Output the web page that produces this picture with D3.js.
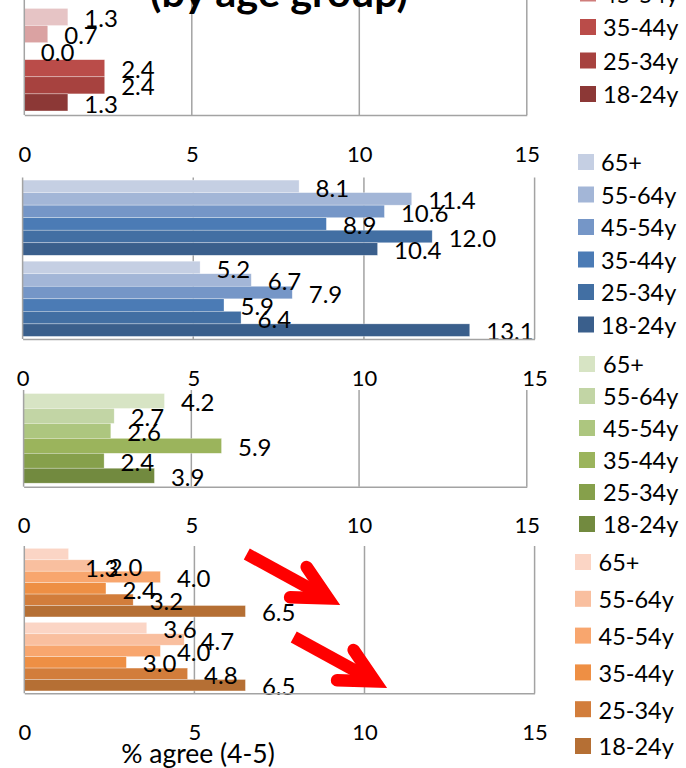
<!DOCTYPE html>
<html>
<head>
<meta charset="utf-8">
<script src="https://cdn.jsdelivr.net/npm/d3@7"></script>
<style>
html,body{margin:0;padding:0;background:#fff;}
svg{display:block;font-family:Lato, "Open Sans", sans-serif;}
</style>
</head>
<body>
<svg id="chart" width="686" height="768"></svg>
<script>
// ---------------- data ----------------
const ageGroups = ["65+", "55-64y", "45-54y", "35-44y", "25-34y", "18-24y"];
const tickValues = [0, 5, 10, 15];
const chartTitle = "(by age group)";
const axisTitle = "% agree (4-5)";

const redGroups = ["Group 1"];
const redValues = [[1.3, 0.7, 0.0, 2.4, 2.4, 1.3]];

const blueGroups = ["Group 1", "Group 2"];
const blueValues = [
  [8.1, 11.4, 10.6, 8.9, 12.0, 10.4],
  [5.2, 6.7, 7.9, 5.9, 6.4, 13.1]
];

const greenGroups = ["Group 1"];
const greenValues = [[4.2, 2.7, 2.6, 5.9, 2.4, 3.9]];

const orangeGroups = ["Group 1", "Group 2"];
const orangeValues = [
  [1.3, 2.0, 4.0, 2.4, 3.2, 6.5],
  [3.6, 4.7, 4.0, 3.0, 4.8, 6.5]
];

// ---------------- styles ----------------
const redColors    = ["#e6c4c5", "#daa2a2", "#cf7d7b", "#ba4c49", "#a7423f", "#8c3836"];
const blueColors   = ["#c5cfe3", "#a3b6d7", "#7596c7", "#4b7bb5", "#426fa3", "#3a5f8c"];
const greenColors  = ["#d7e4c4", "#c2d5a5", "#adc67f", "#9bb45c", "#86a04b", "#728a3f"];
const orangeColors = ["#fbd5c5", "#f9bf9f", "#f8a66e", "#ee8f44", "#d27d3b", "#b56f34"];

const panels = [
  {key:"red", groups:redGroups, values:redValues, colors:redColors,
   top:4.4, bottom:115, gridTop:-4, x0:24.3, x1:526.8,
   legendX:580, legendY0:-73.5, legendStep:33.5, legendTextX:603},
  {key:"blue", groups:blueGroups, values:blueValues, colors:blueColors,
   top:177.5, bottom:339, x0:22.6, x1:534.6,
   legendX:578, legendY0:162, legendStep:32.5, legendTextX:601},
  {key:"green", groups:greenGroups, values:greenValues, colors:greenColors,
   top:390, bottom:486.7, x0:23.6, x1:526.8,
   legendX:579, legendY0:364, legendStep:32, legendTextX:603},
  {key:"orange", groups:orangeGroups, values:orangeValues, colors:orangeColors,
   top:546, bottom:693.3, x0:24.3, x1:534.6,
   legendX:575, legendY0:562, legendStep:36.8, legendTextX:598.5}
];

// manual label nudges (panel|group|index -> dy px)
const labelNudges = {"orange|0|0": 12.5};

const gridColor = "#a3a3a3";
const fmt = d3.format(".1f");
const svg = d3.select("#chart");

panels.forEach(p => {
  const g = svg.append("g").attr("class", "panel-" + p.key);
  const x = d3.scaleLinear().domain([0, 15]).range([p.x0, p.x1]);
  const yOuter = d3.scaleBand().domain(p.groups).range([p.top, p.bottom])
    .paddingInner(0.073).paddingOuter(0.032);
  const yInner = d3.scaleBand().domain(ageGroups).range([0, yOuter.bandwidth()]);
  const gridTop = (p.gridTop !== undefined) ? p.gridTop : p.top;

  // vertical gridlines
  g.append("g").selectAll("line")
    .data(tickValues.filter(t => t > 0))
    .join("line")
    .attr("x1", d => x(d)).attr("x2", d => x(d))
    .attr("y1", gridTop).attr("y2", p.bottom)
    .attr("stroke", gridColor).attr("stroke-width", 1.5);

  // bars + labels
  p.groups.forEach((grp, gi) => {
    const rows = ageGroups.map((a, i) => ({age:a, v:p.values[gi][i], i}));
    const gg = g.append("g").attr("transform", `translate(0,${yOuter(grp)})`);
    gg.selectAll("rect").data(rows).join("rect")
      .attr("x", x(0))
      .attr("y", d => yInner(d.age))
      .attr("width", d => Math.max(0, x(d.v) - x(0)))
      .attr("height", yInner.bandwidth())
      .attr("fill", d => p.colors[d.i])
      .attr("stroke", "#ffffff").attr("stroke-width", 0.6).attr("stroke-opacity", 0.5);
    gg.selectAll("text").data(rows).join("text")
      .attr("x", d => x(d.v) + 16.5)
      .attr("y", d => yInner(d.age) + yInner.bandwidth() / 2 + 1.5 + (labelNudges[`${p.key}|${gi}|${d.i}`] || 0))
      .attr("dy", "0.36em")
      .attr("font-size", 24)
      .attr("fill", "#000")
      .text(d => fmt(d.v));
  });

  // left axis line
  g.append("line")
    .attr("x1", x(0)).attr("x2", x(0))
    .attr("y1", gridTop).attr("y2", p.bottom)
    .attr("stroke", gridColor).attr("stroke-width", 1.5);

  // bottom axis with labels
  const ax = g.append("g")
    .attr("transform", `translate(0,${p.bottom})`)
    .call(d3.axisBottom(x).tickValues(tickValues).tickSize(0).tickSizeOuter(0).tickPadding(31).tickFormat(d3.format("d")));
  ax.select(".domain").attr("stroke", gridColor).attr("stroke-width", 1.5);
  ax.selectAll("text").attr("font-size", 22).attr("font-family", "Lato, sans-serif").attr("fill", "#000");

  // legend (entries lying entirely above the visible area are not drawn)
  const lg = g.append("g");
  ageGroups.forEach((a, i) => {
    const cy = p.legendY0 + i * p.legendStep;
    if (cy < -20) return;
    lg.append("rect").attr("x", p.legendX).attr("y", cy - 8)
      .attr("width", 16).attr("height", 16).attr("fill", p.colors[i]);
    lg.append("text").attr("x", p.legendTextX).attr("y", cy + 1).attr("dy", "0.36em")
      .attr("font-size", 23.5).attr("fill", "#000").text(a);
  });
});

// title (cut off at top)
svg.append("text")
  .attr("x", 279).attr("y", 7)
  .attr("text-anchor", "middle")
  .attr("font-size", 40).attr("font-weight", "bold")
  .attr("textLength", 258).attr("lengthAdjust", "spacingAndGlyphs")
  .attr("fill", "#000")
  .text(chartTitle);

// axis title
svg.append("text")
  .attr("x", 198).attr("y", 763)
  .attr("text-anchor", "middle")
  .attr("font-size", 26.5).attr("fill", "#000")
  .text(axisTitle);

// red annotation arrows (orange panel, x in value units, y offset px from panel top)
const orangePanel = panels[3];
const xo = d3.scaleLinear().domain([0, 15]).range([orangePanel.x0, orangePanel.x1]);
const arrows = [
  {from:[6.54, 8],  to:[8.93, 52.4]},
  {from:[7.92, 91], to:[10.31, 135.4]}
];
const arrowG = svg.append("g");
arrows.forEach(a => {
  const x1 = xo(a.from[0]), y1 = orangePanel.top + a.from[1];
  const x2 = xo(a.to[0]),   y2 = orangePanel.top + a.to[1];
  const ang = Math.atan2(y2 - y1, x2 - x1);
  const back = ang + Math.PI;
  const half = 27 * Math.PI / 180, L = 38;
  arrowG.append("line")
    .attr("x1", x1).attr("y1", y1).attr("x2", x2).attr("y2", y2)
    .attr("stroke", "#ff0000").attr("stroke-width", 12.5).attr("stroke-linecap", "butt");
  const pts = [
    [x2 + L * Math.cos(back + half), y2 + L * Math.sin(back + half)],
    [x2, y2],
    [x2 + L * Math.cos(back - half), y2 + L * Math.sin(back - half)]
  ];
  arrowG.append("path")
    .attr("d", d3.line()(pts))
    .attr("fill", "none").attr("stroke", "#ff0000").attr("stroke-width", 12.5)
    .attr("stroke-linecap", "round").attr("stroke-linejoin", "miter").attr("stroke-miterlimit", 10);
});
</script>
</body>
</html>
